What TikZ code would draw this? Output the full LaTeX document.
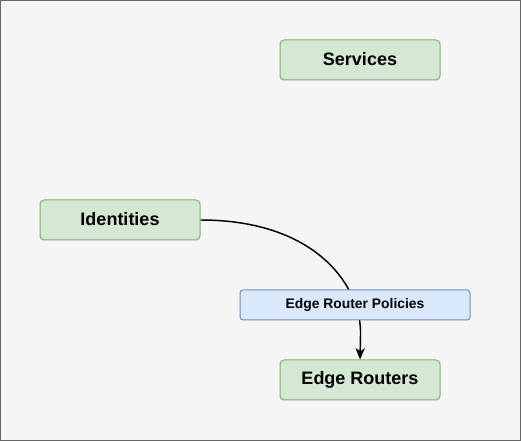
\documentclass[tikz,border=0pt]{standalone}
\usepackage{fontspec}
\setmainfont{Liberation Sans}
\usetikzlibrary{arrows.meta}
\definecolor{bgfill}{HTML}{F5F5F5}
\definecolor{bgline}{HTML}{666666}
\definecolor{gfill}{HTML}{D5E8D4}
\definecolor{gline}{HTML}{82B366}
\definecolor{bfill}{HTML}{DAE8FC}
\definecolor{bline}{HTML}{6C8EBF}
\tikzset{
  greenbox/.style={draw=gline, fill=gfill, rounded corners=3pt, line width=0.75pt,
    minimum width=120pt, minimum height=30pt, inner sep=0pt,
    font=\fontsize{13.5pt}{15pt}\selectfont\bfseries},
  bluebox/.style={draw=bline, fill=bfill, rounded corners=2.25pt, line width=0.75pt,
    minimum width=172.5pt, minimum height=22.5pt, inner sep=0pt,
    font=\fontsize{10.4pt}{12pt}\selectfont\bfseries},
  conn/.style={line width=1.1pt, -{Stealth[length=8.5pt,width=7pt,inset=2.5pt]}}
}
\begin{document}
\begin{tikzpicture}[x=0.75pt,y=-0.75pt]
\useasboundingbox (0,0) rectangle (521,441);
\draw[bgline, fill=bgfill, line width=0.75pt] (0.5,0.5) rectangle (520.5,440.5);
\node[greenbox] (services) at (360,60) {\raisebox{1pt}{Services}};
\node[greenbox] (identities) at (120,220) {\raisebox{1pt}{Identities}};
\node[greenbox] (routers) at (360,380) {\raisebox{1pt}{Edge Routers}};
\draw[conn] (identities.east) .. controls (320,220) and (362,290) .. (360.5,335) -- (routers.north);
\node[bluebox] (policies) at (355,305) {Edge Router Policies};
\end{tikzpicture}
\end{document}
